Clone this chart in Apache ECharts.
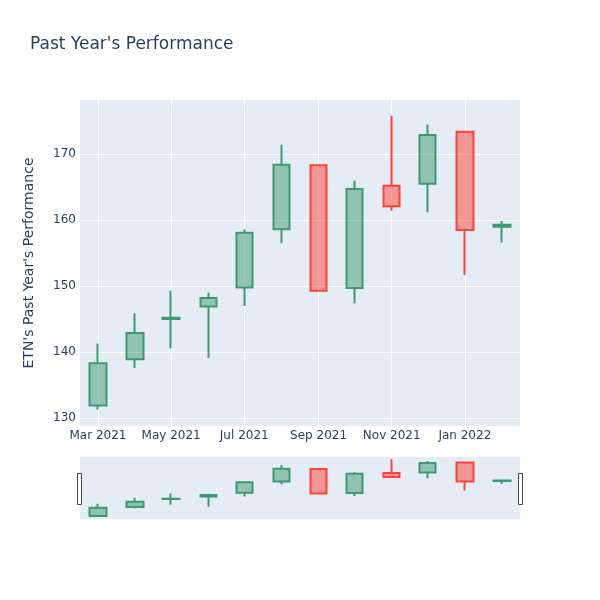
<!DOCTYPE html>
<html>
<head>
<meta charset="utf-8">
<script src="https://cdn.jsdelivr.net/npm/echarts@6/dist/echarts.min.js"></script>
<style>html,body{margin:0;padding:0;background:#fff}#c{width:600px;height:600px}</style>
</head>
<body>
<div id="c"></div>
<script>
// ---- data ----
const dates  = ['2021-03-01','2021-04-01','2021-05-01','2021-06-01','2021-07-01','2021-08-01','2021-09-01','2021-10-01','2021-11-01','2021-12-01','2022-01-01','2022-02-01'];
const opens  = [131.9, 138.9, 145.0, 146.9, 149.8, 158.6, 168.3, 149.7, 165.2, 165.5, 173.4, 159.0];
const closes = [138.3, 142.9, 145.2, 148.2, 158.1, 168.4, 149.3, 164.7, 162.1, 172.9, 158.5, 159.3];
const lows   = [131.3, 137.6, 140.6, 139.1, 147.0, 156.5, 149.2, 147.4, 161.4, 161.2, 151.7, 156.6];
const highs  = [141.3, 145.9, 149.3, 149.0, 158.6, 171.4, 168.4, 166.0, 175.8, 174.5, 173.4, 159.9];
const yTicks = [130, 140, 150, 160, 170];
const xTickDates = ['2021-03-01','2021-05-01','2021-07-01','2021-09-01','2021-11-01','2022-01-01'];
const monthNames = ['Jan','Feb','Mar','Apr','May','Jun','Jul','Aug','Sep','Oct','Nov','Dec'];
const xRange = ['2021-02-14','2022-02-16'];
const yRange = [128.8, 178.2];
const sliderYRange = [129.5, 177.6];

// dates -> day numbers (value axis, formatted as dates)
function dayNum(s){ const p = s.split('-').map(Number); return Date.UTC(p[0], p[1]-1, p[2]) / 86400000; }
const candleData = dates.map((d,i)=>[dayNum(d), opens[i], closes[i], lows[i], highs[i]]);
const xTickVals = xTickDates.map(dayNum);

const INC = '#3D9970', DEC = '#FF4136';
const style = {
  color: 'rgba(61,153,112,0.5)', color0: 'rgba(255,65,54,0.5)',
  borderColor: INC, borderColor0: DEC, borderWidth: 2
};
const txt = '#2a3f5f';
const font = '"DejaVu Sans", Verdana, Arial, sans-serif';

const chart = echarts.init(document.getElementById('c'), null, {renderer:'canvas'});
chart.setOption({
  animation: false,
  backgroundColor: '#fff',
  title: { text: "Past Year's Performance", left: 30, top: 36, padding: 0,
    textStyle: { color: txt, fontSize: 17, fontWeight: 'normal', fontFamily: font } },
  grid: [
    { left: 80, right: 80, top: 100, height: 326, show: true, backgroundColor: '#E5ECF6', borderWidth: 0 },
    { left: 80, right: 80, top: 457, height: 62, show: true, backgroundColor: '#E5ECF6', borderWidth: 0 }
  ],
  xAxis: [
    { type: 'value', gridIndex: 0, min: dayNum(xRange[0]), max: dayNum(xRange[1]),
      axisLine: {show:false}, axisTick: {show:false, customValues: xTickVals},
      splitLine: { show: true, lineStyle: { color: '#fff', width: 1 } },
      axisLabel: { customValues: xTickVals, color: txt, fontSize: 12, fontFamily: font, margin: 4,
        formatter: v => { const d = new Date(v * 86400000); return monthNames[d.getUTCMonth()] + ' ' + d.getUTCFullYear(); } } },
    { type: 'value', gridIndex: 1, min: dayNum(xRange[0]), max: dayNum(xRange[1]), show: false, splitLine: {show:false} }
  ],
  yAxis: [
    { type: 'value', gridIndex: 0, min: yRange[0], max: yRange[1],
      name: "ETN's Past Year's Performance", nameLocation: 'middle', nameGap: 44,
      nameTextStyle: { color: txt, fontSize: 14, fontFamily: font },
      axisLine: {show:false}, axisTick: {show:false, customValues: yTicks},
      splitLine: { show: true, lineStyle: { color: '#fff', width: 1 } },
      axisLabel: { customValues: yTicks, color: txt, fontSize: 12, fontFamily: font, margin: 4 } },
    { type: 'value', gridIndex: 1, min: sliderYRange[0], max: sliderYRange[1], show: false, splitLine: {show:false} }
  ],
  series: [
    { type: 'candlestick', xAxisIndex: 0, yAxisIndex: 0, data: candleData, barWidth: 17,
      encode: { x: 0, y: [1,2,3,4] }, itemStyle: style },
    { type: 'candlestick', xAxisIndex: 1, yAxisIndex: 1, data: candleData, barWidth: 17,
      encode: { x: 0, y: [1,2,3,4] }, itemStyle: style, silent: true }
  ],
  graphic: [
    { type: 'rect', shape: { x: 77.5, y: 473.5, width: 4, height: 31 }, style: { fill: '#fff', stroke: '#444', lineWidth: 1 } },
    { type: 'rect', shape: { x: 518.5, y: 473.5, width: 4, height: 31 }, style: { fill: '#fff', stroke: '#444', lineWidth: 1 } }
  ]
});
</script>
</body>
</html>
